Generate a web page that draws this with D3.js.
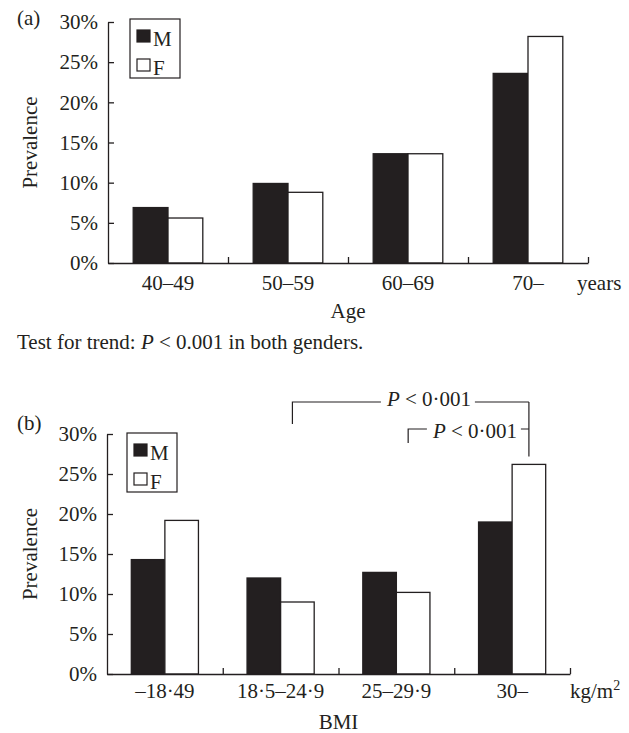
<!DOCTYPE html>
<html lang="en">
<head>
<meta charset="UTF-8">
<script src="https://d3js.org/d3.v7.min.js"></script>
<title>Prevalence by age and BMI</title>
<style>
  body { margin: 0; background: #fff; }
  text { font-family: "Liberation Serif", "Times New Roman", serif; fill: #231f20; }
</style>
</head>
<body>
<div id="chart"></div>
<script>
// data
const genders = ["M", "F"];
const ageCats = ["40–49", "50–59", "60–69", "70–"];
const ageM = [6.9, 9.9, 13.6, 23.6];
const ageF = [5.6, 8.8, 13.6, 28.2];
const bmiCats = ["–18·49", "18·5–24·9", "25–29·9", "30–"];
const bmiM = [14.3, 12.0, 12.7, 19.0];
const bmiF = [19.2, 9.0, 10.2, 26.2];
const yTicks = [0, 5, 10, 15, 20, 25, 30];

const ink = "#231f20";
const fs = "21px";
const svg = d3.select("#chart").append("svg")
  .attr("width", 629).attr("height", 733);

function drawPanel(p) {
  const g = svg.append("g").attr("transform", "translate(" + p.left + "," + p.top + ")");
  const w = p.width, h = p.height;

  const x0 = d3.scaleBand().domain(p.cats).range([0, w]);
  const bw = x0.bandwidth();
  const x1 = d3.scaleBand().domain(genders).range([bw * 0.21, bw * 0.79]);
  const y = d3.scaleLinear().domain([0, 30]).range([h, 0]);

  // y axis
  const ya = g.append("g")
    .call(d3.axisLeft(y).tickValues(yTicks).tickFormat(d => d + "%")
      .tickSizeInner(-6).tickSizeOuter(0).tickPadding(10));
  ya.selectAll("path, line").attr("stroke", ink).attr("stroke-width", 1.3);
  ya.selectAll("text").style("font-size", fs).attr("fill", ink)
    .style("font-family", "Liberation Serif, serif");

  // bars
  const rows = p.cats.map((c, i) => ({cat: c, vals: [p.M[i], p.F[i]]}));
  g.append("g").selectAll("g").data(rows).enter().append("g")
    .attr("transform", d => "translate(" + x0(d.cat) + ",0)")
    .selectAll("rect").data(d => d.vals.map((v, j) => ({g: genders[j], v: v})))
    .enter().append("rect")
    .attr("x", d => x1(d.g))
    .attr("width", x1.bandwidth())
    .attr("y", d => y(d.v))
    .attr("height", d => h - y(d.v))
    .attr("fill", d => d.g === "M" ? ink : "#fff")
    .attr("stroke", ink).attr("stroke-width", 1.3);

  // x axis: baseline with ticks at category boundaries
  const xb = d3.scaleLinear().domain([0, p.cats.length]).range([0, w]);
  const xa = g.append("g").attr("transform", "translate(0," + h + ")")
    .call(d3.axisBottom(xb).tickValues(d3.range(1, p.cats.length + 1))
      .tickFormat("").tickSizeInner(-6).tickSizeOuter(0));
  xa.selectAll("path, line").attr("stroke", ink).attr("stroke-width", 1.3);

  g.append("g").selectAll("text").data(p.cats).enter().append("text")
    .attr("x", d => x0(d) + bw / 2)
    .attr("y", h + p.labelDy)
    .attr("text-anchor", "middle")
    .style("font-size", fs)
    .text(d => d);

  // unit, axis title, y title, panel tag
  const unit = g.append("text").attr("x", p.unitX).attr("y", h + p.labelDy)
    .style("font-size", fs).text(p.unit);
  if (p.sup) unit.append("tspan").attr("dy", -8).style("font-size", "14px").text(p.sup);

  g.append("text").attr("x", w / 2).attr("y", h + p.titleDy)
    .attr("text-anchor", "middle").style("font-size", fs).text(p.title);

  g.append("text").attr("transform", "translate(" + (37 - p.left) + "," + (h / 2) + ") rotate(-90)")
    .attr("text-anchor", "middle").style("font-size", fs).text("Prevalence");

  g.append("text").attr("x", 17 - p.left).attr("y", p.tagY - p.top)
    .style("font-size", fs).text(p.tag);

  // legend
  const lg = g.append("g").attr("transform", "translate(" + p.legX + "," + p.legY + ")");
  lg.append("rect").attr("width", 50).attr("height", 59)
    .attr("fill", "#fff").attr("stroke", ink).attr("stroke-width", 1.2);
  genders.forEach((s, i) => {
    lg.append("rect").attr("x", 7).attr("y", 11 + i * 29).attr("width", 13).attr("height", 12)
      .attr("fill", s === "M" ? ink : "#fff").attr("stroke", ink).attr("stroke-width", 1.2);
    lg.append("text").attr("x", 23).attr("y", 27 + i * 29)
      .style("font-size", fs).text(s);
  });

  return {g: g, x0: x0, x1: x1, y: y, bw: bw};
}

const a = drawPanel({
  left: 108, top: 22, width: 480, height: 241,
  cats: ageCats, M: ageM, F: ageF,
  labelDy: 27, titleDy: 55, title: "Age",
  unit: "years", unitX: 469, tag: "(a)", tagY: 25,
  legX: 22, legY: -3
});

const b = drawPanel({
  left: 107, top: 434, width: 463, height: 240,
  cats: bmiCats, M: bmiM, F: bmiF,
  labelDy: 24, titleDy: 55, title: "BMI",
  unit: "kg/m", sup: "2", unitX: 463, tag: "(b)", tagY: 430,
  legX: 20, legY: -1
});

// trend note
const note = svg.append("text").attr("x", 17).attr("y", 349).style("font-size", fs);
note.append("tspan").text("Test for trend: ");
note.append("tspan").style("font-style", "italic").text("P");
note.append("tspan").text(" < 0.001 in both genders.");

// significance brackets in panel (b)
const fx = c => b.x0(c) + b.x1("F") + b.x1.bandwidth() / 2;
const rightX = fx("30–");
const brackets = [
  {from: "18·5–24·9", lineY: -32, leftDrop: 22},
  {from: "25–29·9", lineY: -5, leftDrop: 14}
];
brackets.forEach((k, i) => {
  const lx = fx(k.from) - 5;
  const ly = k.lineY;
  const tw = 84;
  const tx = rightX - 12 - tw - (i === 0 ? 46 : 0);
  const path = d3.path();
  path.moveTo(lx, ly + k.leftDrop); path.lineTo(lx, ly); path.lineTo(tx - 6, ly);
  path.moveTo(tx + tw + 4, ly); path.lineTo(rightX, ly);
  b.g.append("path").attr("d", path.toString()).attr("fill", "none")
    .attr("stroke", ink).attr("stroke-width", 1.2);
  const t = b.g.append("text").attr("x", tx).attr("y", ly + (i === 0 ? 4 : 9))
    .style("font-size", fs);
  t.append("tspan").style("font-style", "italic").text("P");
  t.append("tspan").text(" < 0·001");
});
b.g.append("path").attr("d", "M" + rightX + "," + (-32) + "V" + b.y(27.2))
  .attr("fill", "none").attr("stroke", ink).attr("stroke-width", 1.2);
</script>
</body>
</html>
